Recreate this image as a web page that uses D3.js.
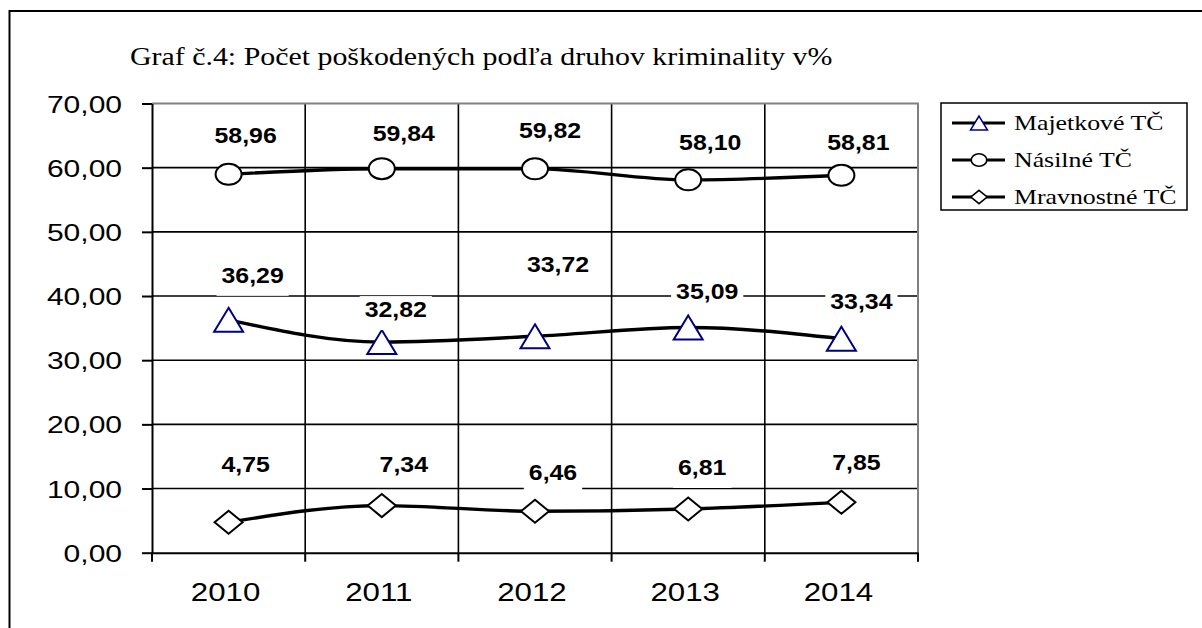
<!DOCTYPE html>
<html><head><meta charset="utf-8">
<script src="https://cdn.jsdelivr.net/npm/d3@7"></script>
<style>body{margin:0;background:#fff} svg{display:block}</style>
</head><body>
<svg id="c" width="1202" height="628"></svg>
<script>
const years = ["2010", "2011", "2012", "2013", "2014"];
const majetkove = [36.29, 32.82, 33.72, 35.09, 33.34];
const nasilne = [58.96, 59.84, 59.82, 58.10, 58.81];
const mravnostne = [4.75, 7.34, 6.46, 6.81, 7.85];
const yTicks = [0, 10, 20, 30, 40, 50, 60, 70];
const seriesNames = ["Majetkové TČ", "Násilné TČ", "Mravnostné TČ"];
const titleText = "Graf č.4: Počet poškodených podľa druhov kriminality v%";

// layout only: data label offsets (px) relative to each point [dx, baseline dy]
const labelOffsets = [
  [[24, -37], [14, -25], [23, -64], [19, -28.5], [20, -30]],
  [[17, -31], [22, -28], [15, -31], [22, -30], [17, -25]],
  [[17, -50], [22, -34], [18, -31], [14, -34], [15, -32]]
];

const series = [
  {name: seriesNames[0], values: majetkove, marker: "triangle"},
  {name: seriesNames[1], values: nasilne, marker: "ellipse"},
  {name: seriesNames[2], values: mravnostne, marker: "diamond"}
];

const svg = d3.select("#c");
const L = 152, R = 918, T = 103.5, B = 552.7;
const x = d3.scaleBand().domain(years).range([L, R]);
const y = d3.scaleLinear().domain([0, 70]).range([B, T]);
const fmt = v => d3.format(".2f")(v).replace(".", ",");

function stretch(sel, k) {
  sel.each(function () {
    const w = this.getComputedTextLength();
    d3.select(this).attr("textLength", w * k).attr("lengthAdjust", "spacingAndGlyphs");
  });
}

// outer frame
svg.append("path").attr("d", "M9.5,628V11H1202").attr("fill", "none")
  .attr("stroke", "#000").attr("stroke-width", 2);

// title
svg.append("text").attr("x", 130).attr("y", 65)
  .attr("font-family", "Liberation Serif, Times New Roman, serif")
  .attr("font-size", 25).attr("fill", "#000").text(titleText)
  .call(stretch, 1.195);

// horizontal gridlines
svg.append("g").selectAll("line").data(yTicks.filter(t => t > 0 && t < 70)).join("line")
  .attr("x1", L).attr("x2", R).attr("y1", d => y(d)).attr("y2", d => y(d))
  .attr("stroke", "#000").attr("stroke-width", 1.6);
// vertical gridlines
svg.append("g").selectAll("line").data(years.slice(1)).join("line")
  .attr("x1", d => x(d)).attr("x2", d => x(d)).attr("y1", T).attr("y2", B)
  .attr("stroke", "#000").attr("stroke-width", 1.6);
// plot border top/right (gray)
svg.append("path").attr("d", `M${L},${y(70)}H${R}V${B}`).attr("fill", "none")
  .attr("stroke", "#808080").attr("stroke-width", 2);

// y axis
const yAxis = svg.append("g").attr("transform", `translate(${L},0)`)
  .call(d3.axisLeft(y).tickValues(yTicks).tickSize(10).tickSizeOuter(0).tickPadding(20)
    .tickFormat(d => fmt(d)));
yAxis.select(".domain").attr("stroke", "#000").attr("stroke-width", 2);
yAxis.selectAll(".tick line").attr("stroke", "#000").attr("stroke-width", 2);
yAxis.selectAll(".tick text").attr("font-family", "Liberation Sans, Arial, sans-serif")
  .attr("font-size", 24).attr("fill", "#000").attr("dy", "0.36em").call(stretch, 1.25);

// x axis
const xAxis = svg.append("g").attr("transform", `translate(0,${B})`)
  .call(d3.axisBottom(x).tickSize(0).tickSizeOuter(0).tickPadding(31));
xAxis.select(".domain").attr("stroke", "#000").attr("stroke-width", 2);
xAxis.selectAll(".tick text").attr("font-family", "Liberation Sans, Arial, sans-serif")
  .attr("font-size", 25).attr("fill", "#000").attr("dy", "0.71em")
  .attr("dx", -3).call(stretch, 1.25);
svg.append("g").selectAll("line").data(years.map(d => x(d)).concat([R])).join("line")
  .attr("x1", d => d).attr("x2", d => d).attr("y1", B).attr("y2", B + 9)
  .attr("stroke", "#000").attr("stroke-width", 2);

// markers
function markerPath(type, s) {
  if (type === "triangle") { const w = 14.5 * s, h = 12 * s; return `M0,${-h}L${w},${h}L${-w},${h}Z`; }
  if (type === "diamond") { const w = 14 * s, h = 11.5 * s; return `M0,${-h}L${w},0L0,${h}L${-w},0Z`; }
  const rx = 13 * s, ry = 10.5 * s;
  return `M${-rx},0A${rx},${ry} 0 1,0 ${rx},0A${rx},${ry} 0 1,0 ${-rx},0Z`;
}
function markerStroke(type) { return type === "triangle" ? "#000080" : "#000"; }

const line = d3.line().x((d, i) => x(years[i]) + x.bandwidth() / 2).y(d => y(d))
  .curve(d3.curveMonotoneX);

series.forEach((s, si) => {
  svg.append("path").datum(s.values).attr("d", line).attr("fill", "none")
    .attr("stroke", "#000").attr("stroke-width", 3.4);
});
series.forEach((s, si) => {
  svg.append("g").selectAll("path").data(s.values).join("path")
    .attr("transform", (d, i) => `translate(${x(years[i]) + x.bandwidth() / 2},${y(d)})`)
    .attr("d", markerPath(s.marker, 1)).attr("fill", "#fff")
    .attr("stroke", markerStroke(s.marker)).attr("stroke-width", 2);
});

// data labels with white boxes
series.forEach((s, si) => {
  const g = svg.append("g").selectAll("g").data(s.values).join("g")
    .attr("transform", (d, i) => `translate(${x(years[i]) + x.bandwidth() / 2 + labelOffsets[si][i][0]},${y(d) + labelOffsets[si][i][1]})`);
  const rects = g.append("rect").attr("fill", "#fff");
  const texts = g.append("text").attr("text-anchor", "middle")
    .attr("font-family", "Liberation Sans, Arial, sans-serif").attr("font-weight", "bold")
    .attr("font-size", 22).attr("fill", "#000").text(d => fmt(d)).call(stretch, 1.13);
  texts.each(function (d, i) {
    const w = +this.getAttribute("textLength");
    d3.select(rects.nodes()[i]).attr("x", -w / 2 - 5).attr("width", w + 10)
      .attr("y", -21).attr("height", 34);
  });
});

// legend
const lg = svg.append("g");
lg.append("rect").attr("x", 941).attr("y", 103).attr("width", 246).attr("height", 107)
  .attr("fill", "#fff").attr("stroke", "#000").attr("stroke-width", 1.5);
const items = lg.selectAll("g.item").data(series).join("g").attr("class", "item")
  .attr("transform", (d, i) => `translate(0,${123 + i * 37})`);
items.append("line").attr("x1", 952).attr("x2", 1005).attr("stroke", "#000").attr("stroke-width", 3);
items.append("path").attr("transform", "translate(979,0)")
  .attr("d", d => markerPath(d.marker, d.marker === "ellipse" ? 0.6 : 0.58))
  .attr("fill", "#fff").attr("stroke", d => markerStroke(d.marker)).attr("stroke-width", 1.6);
items.append("text").attr("x", 1014).attr("y", 7)
  .attr("font-family", "Liberation Serif, Times New Roman, serif").attr("font-size", 21)
  .attr("fill", "#000").text(d => d.name).call(stretch, 1.23);
</script>
</body></html>
